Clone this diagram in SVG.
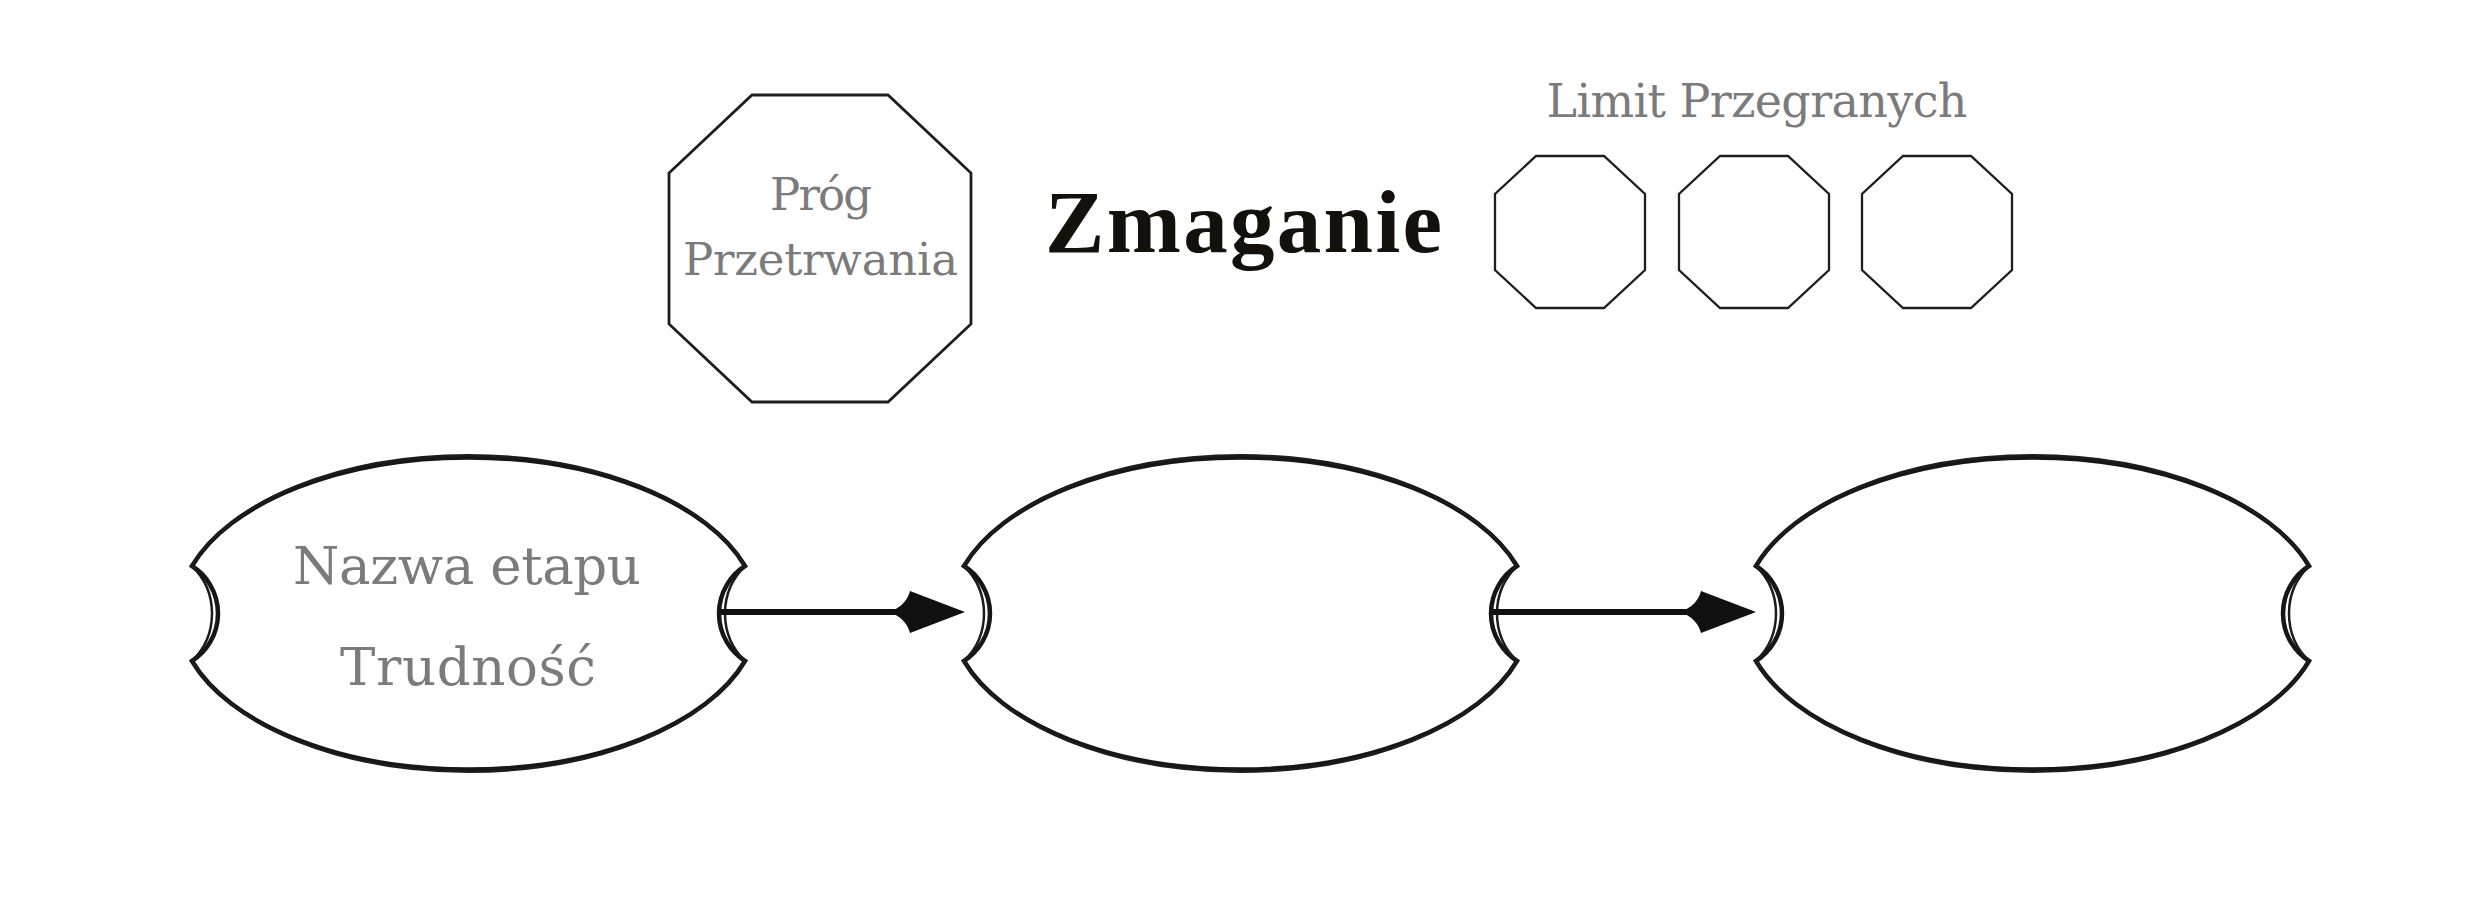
<svg xmlns="http://www.w3.org/2000/svg" width="2480" height="908" viewBox="0 0 2480 908">
<style>
.bg{fill:#ffffff}
.lens{fill:#ffffff;stroke:#161616;stroke-width:4.5;stroke-linejoin:miter}
.sketch{fill:none;stroke:#1c1c1c;stroke-width:2.5}
.oct{fill:#ffffff;stroke:#1e1e1e;stroke-width:2.8;stroke-linejoin:miter}
.octs{fill:#ffffff;stroke:#1e1e1e;stroke-width:2.3}
.gray{font-family:"DejaVu Serif","Liberation Serif",serif;fill:#7b7b7b}
.title{font-family:"Liberation Serif","Times New Roman",serif;font-weight:bold;fill:#14110d}
.shaft{stroke:#111111;stroke-width:6;fill:none}
</style>
<defs>
<marker id="spear" markerUnits="userSpaceOnUse" viewBox="-80 -24 85 48" refX="-30" refY="0" markerWidth="85" markerHeight="48" orient="auto">
<path d="M-76,0 Q-59,-6 -55,-21 L0,0 L-55,21 Q-59,6 -76,0 Z" fill="#111111"/>
</marker>
<polygon id="smallOct" points="-34,-76 34,-76 75,-38 75,38 34,76 -34,76 -75,38 -75,-38"/>
<g id="lensShape">
<path class="lens" d="M-276.5,-47.5 A290,155.5 0 0 1 276.5,-47.5 A56.4,56.4 0 0 0 276.5,47.5 A290,155.5 0 0 1 -276.5,47.5 A56.4,56.4 0 0 0 -276.5,-47.5 Z"/>
<path class="sketch" d="M-276.5,-47.5 A290,158.5 0 0 1 276.5,-47.5 M276.5,47.5 A290,158.5 0 0 1 -276.5,47.5 M-276.5,-47.5 A66.4,66.4 0 0 1 -276.5,47.5 M276.5,-47.5 A66.4,66.4 0 0 0 276.5,47.5"/>
</g>
</defs>
<rect class="bg" x="0" y="0" width="2480" height="908"/>

<g id="prog-przetrwania">
<polygon class="oct" points="752,95 888,95 971,173 971,324 888,402 752,402 669,324 669,173"/>
<text class="gray" x="821" y="210" font-size="45" text-anchor="middle" textLength="102" lengthAdjust="spacing">Próg</text>
<text class="gray" x="820.5" y="275" font-size="45" text-anchor="middle" textLength="275" lengthAdjust="spacing">Przetrwania</text>
</g>

<g id="tytul">
<text class="title" x="1045" y="252" font-size="89" textLength="397" lengthAdjust="spacing">Zmaganie</text>
</g>

<g id="limit-przegranych">
<text class="gray" x="1757" y="117" font-size="46" text-anchor="middle" textLength="421" lengthAdjust="spacing">Limit Przegranych</text>
</g>
<g id="limit-1"><use href="#smallOct" class="octs" x="1570" y="232"/></g>
<g id="limit-2"><use href="#smallOct" class="octs" x="1754" y="232"/></g>
<g id="limit-3"><use href="#smallOct" class="octs" x="1937" y="232"/></g>

<g id="etap-1">
<use href="#lensShape" x="468.5" y="613.5"/>
<text class="gray" x="467" y="584" font-size="53" text-anchor="middle" textLength="348" lengthAdjust="spacing">Nazwa etapu</text>
<text class="gray" x="468" y="685" font-size="53" text-anchor="middle" textLength="256" lengthAdjust="spacing">Trudność</text>
</g>

<g id="etap-2">
<use href="#lensShape" x="1240.5" y="613.5"/>
</g>

<g id="etap-3">
<use href="#lensShape" x="2032.5" y="613.5"/>
</g>

<g id="polaczenia">
<line class="shaft" x1="721" y1="612" x2="935" y2="612" marker-end="url(#spear)"/>
<line class="shaft" x1="1493" y1="612" x2="1726" y2="612" marker-end="url(#spear)"/>
</g>
</svg>
